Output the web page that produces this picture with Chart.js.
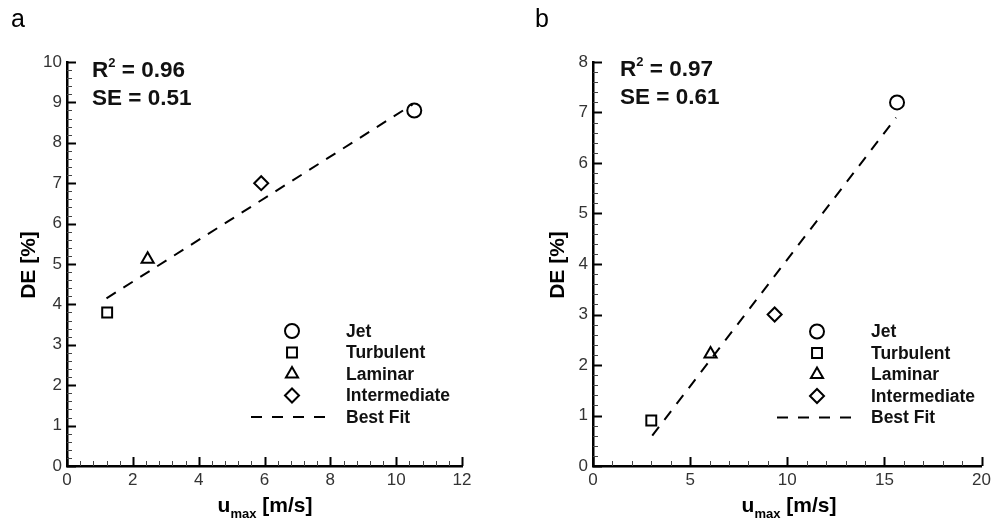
<!DOCTYPE html>
<html>
<head>
<meta charset="UTF-8">
<title>DE vs umax</title>
<script src="https://cdn.jsdelivr.net/npm/chart.js@4"></script>
<style>
body {
	margin: 0;
	background: #fff;
	font-family: "Liberation Sans", Arial, sans-serif;
}
#wrap {
	position: relative;
	width: 995px;
	height: 520px;
	overflow: hidden;
}
canvas {
	position: absolute;
	top: 0;
}
.txt {
	position: absolute;
	white-space: nowrap;
	line-height: 1;
	color: #000;
}
.tag { font-size: 25px; }
.stat { font-size: 22.5px; font-weight: bold; color: #111; }
.stat sup { font-size: 13px; position: relative; top: -3px; vertical-align: top; }
.xt { font-size: 21px; font-weight: bold; transform: translateX(-50%); }
.xt sub { font-size: 13px; vertical-align: baseline; position: relative; top: 6px; }
.yt { font-size: 21px; font-weight: bold; transform: translate(-50%, -50%) rotate(-90deg); }
</style>
</head>
<body>
<div id="wrap">
	<canvas id="chartA" width="497" height="520" style="left:0"></canvas>
	<canvas id="chartB" width="498" height="520" style="left:497px"></canvas>

	<div class="txt tag" style="left:11px; top:6px">a</div>
	<div class="txt tag" style="left:535px; top:6px">b</div>

	<div class="txt stat" style="left:92px; top:59px">R<sup>2</sup> = 0.96</div>
	<div class="txt stat" style="left:92px; top:87px">SE = 0.51</div>
	<div class="txt stat" style="left:620px; top:58px">R<sup>2</sup> = 0.97</div>
	<div class="txt stat" style="left:620px; top:86px">SE = 0.61</div>

	<div class="txt yt" style="left:27px; top:265px">DE [%]</div>
	<div class="txt yt" style="left:556px; top:265px">DE [%]</div>
	<div class="txt xt" style="left:265px; top:494px">u<sub>max</sub> [m/s]</div>
	<div class="txt xt" style="left:789px; top:494px">u<sub>max</sub> [m/s]</div>
</div>
<script>
// series names and marker styles (same for both panels)
const seriesNames = ['Jet', 'Turbulent', 'Laminar', 'Intermediate'];
const seriesStyles = ['circle', 'rect', 'triangle', 'rectRot'];
const fitName = 'Best Fit';

// panel a
const aX = [10.55, 1.22, 2.45, 5.9];
const aY = [8.8, 3.8, 5.12, 7.0];
const aFitX = [1.2, 10.5];
const aFitY = [4.15, 8.95];
const aXTicks = [0, 2, 4, 6, 8, 10, 12];
const aYTicks = [0, 1, 2, 3, 4, 5, 6, 7, 8, 9, 10];

// panel b
const bX = [15.65, 3.0, 6.05, 9.35];
const bY = [7.2, 0.9, 2.22, 3.0];
const bFitX = [3.05, 15.6];
const bFitY = [0.6, 6.9];
const bXTicks = [0, 5, 10, 15, 20];
const bYTicks = [0, 1, 2, 3, 4, 5, 6, 7, 8];

function drawMarker(ctx, style, r, x, y) {
	if (Chart.helpers && Chart.helpers.drawPoint) {
		Chart.helpers.drawPoint(ctx, {pointStyle: style, radius: r, rotation: 0, borderWidth: 2}, x, y);
		return;
	}
	ctx.beginPath();
	if (style === 'circle') {
		ctx.arc(x, y, r, 0, Math.PI * 2);
	} else if (style === 'rect') {
		const s = r * Math.SQRT1_2;
		ctx.rect(x - s, y - s, 2 * s, 2 * s);
	} else if (style === 'triangle') {
		ctx.moveTo(x, y - r);
		ctx.lineTo(x + r * 0.866, y + r / 2);
		ctx.lineTo(x - r * 0.866, y + r / 2);
		ctx.closePath();
	} else {
		ctx.moveTo(x, y - r);
		ctx.lineTo(x + r, y);
		ctx.lineTo(x, y + r);
		ctx.lineTo(x - r, y);
		ctx.closePath();
	}
	ctx.fill();
	ctx.stroke();
}

// inward major + minor ticks
const innerTicks = {
	id: 'innerTicks',
	afterDraw(chart, args, opts) {
		const ctx = chart.ctx;
		const xs = chart.scales.x, ys = chart.scales.y;
		const area = chart.chartArea;
		ctx.save();
		const eps = 1e-6;
		for (let v = xs.min; v <= xs.max + eps; v += opts.xMinor) {
			const px = Math.round(xs.getPixelForValue(v)) + 0.5;
			const major = Math.abs(v / opts.xMajor - Math.round(v / opts.xMajor)) < 1e-4;
			ctx.lineWidth = major ? 2 : 1;
			ctx.strokeStyle = major ? '#000' : '#444';
			ctx.beginPath();
			ctx.moveTo(px, area.bottom);
			ctx.lineTo(px, area.bottom - (major ? 9 : 5));
			ctx.stroke();
		}
		for (let v = ys.min; v <= ys.max + eps; v += opts.yMinor) {
			const py = Math.round(ys.getPixelForValue(v)) + 0.5;
			const major = Math.abs(v / opts.yMajor - Math.round(v / opts.yMajor)) < 1e-4;
			ctx.lineWidth = major ? 2 : 1;
			ctx.strokeStyle = major ? '#000' : '#444';
			ctx.beginPath();
			ctx.moveTo(area.left, py);
			ctx.lineTo(area.left + (major ? 9 : 5), py);
			ctx.stroke();
		}
		ctx.restore();
	}
};

// legend drawn inside the plot area
const innerLegend = {
	id: 'innerLegend',
	afterDraw(chart, args, opts) {
		const ctx = chart.ctx;
		ctx.save();
		ctx.font = 'bold 17.5px "Liberation Sans", Arial, sans-serif';
		ctx.textBaseline = 'middle';
		ctx.textAlign = 'left';
		let y = opts.top;
		chart.data.datasets.forEach(ds => {
			ctx.strokeStyle = '#000';
			ctx.fillStyle = '#fff';
			ctx.lineWidth = 2;
			if (ds.showLine) {
				ctx.setLineDash([11, 10]);
				ctx.beginPath();
				ctx.moveTo(opts.lineFrom, y);
				ctx.lineTo(opts.lineTo, y);
				ctx.stroke();
				ctx.setLineDash([]);
			} else {
				drawMarker(ctx, ds.pointStyle, ds.pointRadius, opts.markerX, y);
			}
			ctx.fillStyle = '#111';
			ctx.fillText(ds.label, opts.textX, y + 1);
			y += opts.step;
		});
		ctx.restore();
	}
};

function buildDatasets(xs, ys, fitX, fitY) {
	const sets = seriesNames.map((name, i) => ({
		label: name,
		data: [{x: xs[i], y: ys[i]}],
		pointStyle: seriesStyles[i],
		pointRadius: 7,
		pointBorderWidth: 2,
		pointBorderColor: '#000',
		pointBackgroundColor: 'rgba(255,255,255,0)',
		showLine: false
	}));
	sets.push({
		label: fitName,
		data: fitX.map((x, i) => ({x: x, y: fitY[i]})),
		showLine: true,
		borderColor: '#000',
		borderWidth: 2,
		borderDash: [11, 9],
		pointRadius: 0,
		fill: false
	});
	return sets;
}

function makeChart(id, sets, xTicks, yTicks, cfg) {
	const tickFont = {family: '"Liberation Sans", Arial, sans-serif', size: 17};
	return new Chart(document.getElementById(id), {
		type: 'scatter',
		data: {datasets: sets},
		options: {
			responsive: false,
			devicePixelRatio: 1,
			animation: false,
			layout: {padding: cfg.padding},
			plugins: {
				legend: {display: false},
				tooltip: {enabled: false},
				innerTicks: cfg.ticks,
				innerLegend: cfg.legend
			},
			scales: {
				x: {
					type: 'linear',
					min: xTicks[0],
					max: xTicks[xTicks.length - 1],
					afterBuildTicks: s => { s.ticks = xTicks.map(v => ({value: v})); },
					afterFit: s => { s.height = 54; },
					grid: {display: false, drawTicks: false},
					border: {display: true, color: '#000', width: 2.5},
					ticks: {font: tickFont, color: '#333', padding: 4, maxRotation: 0}
				},
				y: {
					type: 'linear',
					min: yTicks[0],
					max: yTicks[yTicks.length - 1],
					afterBuildTicks: s => { s.ticks = yTicks.map(v => ({value: v})); },
					afterFit: s => { s.width = cfg.yWidth; },
					grid: {display: false, drawTicks: false},
					border: {display: true, color: '#000', width: 2.5},
					ticks: {font: tickFont, color: '#333', padding: 5}
				}
			}
		},
		plugins: [innerTicks, innerLegend]
	});
}

makeChart('chartA', buildDatasets(aX, aY, aFitX, aFitY), aXTicks, aYTicks, {
	padding: {left: 0, top: 62, right: 35, bottom: 0},
	yWidth: 67,
	ticks: {xMajor: 2, xMinor: 0.4, yMajor: 1, yMinor: 0.2},
	legend: {top: 331, step: 21.5, markerX: 292, textX: 346, lineFrom: 251, lineTo: 333}
});

makeChart('chartB', buildDatasets(bX, bY, bFitX, bFitY), bXTicks, bYTicks, {
	padding: {left: 0, top: 62, right: 9, bottom: 0},
	yWidth: 96,
	ticks: {xMajor: 5, xMinor: 1, yMajor: 1, yMinor: 0.2},
	legend: {top: 331.5, step: 21.5, markerX: 320, textX: 374, lineFrom: 280, lineTo: 359}
});
</script>
</body>
</html>
